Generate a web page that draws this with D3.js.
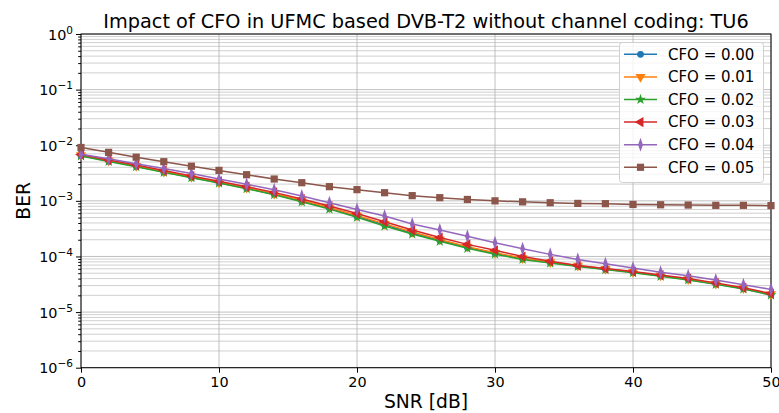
<!DOCTYPE html>
<html>
<head>
<meta charset="utf-8">
<script src="https://cdn.jsdelivr.net/npm/d3@7"></script>
<style>
  body { margin: 0; background: #fff; }
  text { font-family: "DejaVu Sans", sans-serif; fill: #000; }
</style>
</head>
<body>
<div id="chart"></div>
<script>
// data
var snr = [0, 2, 4, 6, 8, 10, 12, 14, 16, 18, 20, 22, 24, 26, 28, 30, 32, 34, 36, 38, 40, 42, 44, 46, 48, 50];
var cfoLabels = ["CFO = 0.00", "CFO = 0.01", "CFO = 0.02", "CFO = 0.03", "CFO = 0.04", "CFO = 0.05"];
var ber000 = [6.5e-3, 5.2e-3, 4.2e-3, 3.3e-3, 2.65e-3, 2.12e-3, 1.68e-3, 1.32e-3, 9.9e-4, 7.4e-4, 5.25e-4, 3.7e-4, 2.65e-4, 1.95e-4, 1.45e-4, 1.14e-4, 9.1e-5, 7.8e-5, 6.75e-5, 5.9e-5, 5.2e-5, 4.5e-5, 3.85e-5, 3.2e-5, 2.65e-5, 2.05e-5];
var ber001 = [6.6e-3, 5.3e-3, 4.25e-3, 3.35e-3, 2.7e-3, 2.15e-3, 1.72e-3, 1.35e-3, 1.02e-3, 7.6e-4, 5.45e-4, 3.85e-4, 2.75e-4, 2.02e-4, 1.5e-4, 1.17e-4, 9.3e-5, 7.9e-5, 6.85e-5, 6.0e-5, 5.25e-5, 4.55e-5, 3.9e-5, 3.25e-5, 2.7e-5, 2.1e-5];
var ber002 = [6.4e-3, 5.1e-3, 4.1e-3, 3.25e-3, 2.6e-3, 2.09e-3, 1.65e-3, 1.29e-3, 9.6e-4, 7.1e-4, 5.05e-4, 3.52e-4, 2.53e-4, 1.87e-4, 1.4e-4, 1.1e-4, 8.85e-5, 7.6e-5, 6.6e-5, 5.8e-5, 5.1e-5, 4.4e-5, 3.77e-5, 3.15e-5, 2.6e-5, 2.02e-5];
var ber003 = [6.8e-3, 5.45e-3, 4.4e-3, 3.5e-3, 2.8e-3, 2.25e-3, 1.8e-3, 1.42e-3, 1.08e-3, 8.1e-4, 5.9e-4, 4.2e-4, 2.98e-4, 2.2e-4, 1.65e-4, 1.29e-4, 1.0e-4, 8.2e-5, 6.9e-5, 6.1e-5, 5.35e-5, 4.65e-5, 4.0e-5, 3.35e-5, 2.75e-5, 2.15e-5];
var ber004 = [6.9e-3, 5.73e-3, 4.65e-3, 3.8e-3, 3.1e-3, 2.47e-3, 1.98e-3, 1.58e-3, 1.22e-3, 9.25e-4, 7.0e-4, 5.33e-4, 3.83e-4, 2.99e-4, 2.3e-4, 1.77e-4, 1.38e-4, 1.09e-4, 8.85e-5, 7.4e-5, 6.2e-5, 5.18e-5, 4.5e-5, 3.77e-5, 3.1e-5, 2.56e-5];
var ber005 = [9.1e-3, 7.45e-3, 6.1e-3, 5.06e-3, 4.2e-3, 3.53e-3, 2.95e-3, 2.47e-3, 2.12e-3, 1.8e-3, 1.59e-3, 1.4e-3, 1.24e-3, 1.14e-3, 1.06e-3, 1.0e-3, 9.6e-4, 9.25e-4, 9.0e-4, 8.9e-4, 8.6e-4, 8.5e-4, 8.4e-4, 8.3e-4, 8.3e-4, 8.2e-4];
var xTicks = [0, 10, 20, 30, 40, 50];
var yExps = [0, -1, -2, -3, -4, -5, -6];

var colors = ["#1f77b4", "#ff7f0e", "#2ca02c", "#d62728", "#9467bd", "#8c564b"];
var allBer = [ber000, ber001, ber002, ber003, ber004, ber005];

var W = 779, H = 413;
var plotL = 81, plotR = 771, plotT = 34, plotB = 367.7;

var svg = d3.select("#chart").append("svg")
    .attr("width", W)
    .attr("height", H);

var x = d3.scaleLinear().domain([0, 50]).range([plotL, plotR]);
var y = d3.scaleLog().domain([1e-6, 1]).range([plotB, plotT]);

// grid
var minorVals = [];
yExps.forEach(function(e){
  if (e < 0) for (var k = 2; k <= 9; k++) minorVals.push(k * Math.pow(10, e));
});
var grid = svg.append("g");
grid.selectAll(".gminor").data(minorVals).enter().append("line")
  .attr("x1", plotL).attr("x2", plotR)
  .attr("y1", d => y(d)).attr("y2", d => y(d))
  .attr("stroke", "#c4c4c4").attr("stroke-width", 0.8);
grid.selectAll(".gmajy").data(yExps).enter().append("line")
  .attr("x1", plotL).attr("x2", plotR)
  .attr("y1", d => y(Math.pow(10, d))).attr("y2", d => y(Math.pow(10, d)))
  .attr("stroke", "#b0b0b0").attr("stroke-width", 0.8);
grid.selectAll(".gmajx").data(xTicks).enter().append("line")
  .attr("y1", plotT).attr("y2", plotB)
  .attr("x1", d => x(d)).attr("x2", d => x(d))
  .attr("stroke", "#b0b0b0").attr("stroke-width", 0.8);

// axes
var xAxis = d3.axisBottom(x).tickValues(xTicks).tickSize(5).tickPadding(4).tickFormat(d3.format("d"));
var gx = svg.append("g").attr("transform", "translate(0," + plotB + ")").call(xAxis);
gx.select(".domain").remove();
gx.selectAll("text").attr("font-size", "14.4px").attr("font-family", "DejaVu Sans");

var yAxisMinor = d3.axisLeft(y).tickValues(minorVals).tickSize(2.8).tickFormat("");
var gym = svg.append("g").attr("transform", "translate(" + plotL + ",0)").call(yAxisMinor);
gym.select(".domain").remove();
var yAxis = d3.axisLeft(y).tickValues(yExps.map(e => Math.pow(10, e))).tickSize(5).tickFormat("");
var gy = svg.append("g").attr("transform", "translate(" + plotL + ",0)").call(yAxis);
gy.select(".domain").remove();

var ylab = svg.append("g").selectAll("text").data(yExps).enter().append("text")
  .attr("x", plotL - 8)
  .attr("y", d => y(Math.pow(10, d)) + 5.5)
  .attr("text-anchor", "end")
  .attr("font-size", "14.4px");
ylab.append("tspan").text("10");
ylab.append("tspan").attr("dy", -6).attr("font-size", "10.5px").text(d => d === 0 ? "0" : "\u2212" + (-d));

// spines
svg.append("rect")
  .attr("x", plotL).attr("y", plotT)
  .attr("width", plotR - plotL).attr("height", plotB - plotT)
  .attr("fill", "none").attr("stroke", "#000").attr("stroke-width", 1);

// marker shapes
function markerPath(i) {
  var s;
  if (i === 0) s = d3.symbol(d3.symbolCircle, 36)();
  else if (i === 1) s = d3.symbol(d3.symbolTriangle, 44)();
  else if (i === 2) s = d3.symbol(d3.symbolStar, 36)();
  else if (i === 3) s = d3.symbol(d3.symbolTriangle, 44)();
  else if (i === 4) s = d3.symbol(d3.symbolDiamond, 52)();
  else s = d3.symbol(d3.symbolSquare, 52)();
  return s;
}
function markerTransform(i) {
  if (i === 1) return " rotate(180)";
  if (i === 3) return " rotate(-90)";
  if (i === 4) return " scale(0.62,1.05)";
  return "";
}

var line = d3.line().x((d, j) => x(snr[j])).y(d => y(d));

allBer.forEach(function(ber, i) {
  var g = svg.append("g");
  g.append("path").datum(ber)
    .attr("d", line)
    .attr("fill", "none")
    .attr("stroke", colors[i])
    .attr("stroke-width", 1.5);
  g.selectAll("path.m").data(ber).enter().append("path")
    .attr("class", "m")
    .attr("d", markerPath(i))
    .attr("transform", (d, j) => "translate(" + x(snr[j]) + "," + y(d) + ")" + markerTransform(i))
    .attr("fill", colors[i]);
});

// legend
var lg = svg.append("g");
lg.append("rect")
  .attr("x", 619.5).attr("y", 42.5).attr("width", 144).attr("height", 140)
  .attr("rx", 3)
  .attr("fill", "#fff").attr("fill-opacity", 0.8)
  .attr("stroke", "#d0d0d0").attr("stroke-width", 1);
cfoLabels.forEach(function(lab, i) {
  var yy = 54.3 + i * 22.6;
  lg.append("line").attr("x1", 624).attr("x2", 657).attr("y1", yy).attr("y2", yy)
    .attr("stroke", colors[i]).attr("stroke-width", 1.5);
  lg.append("path").attr("d", markerPath(i))
    .attr("transform", "translate(640.5," + yy + ")" + markerTransform(i))
    .attr("fill", colors[i]);
  lg.append("text").attr("x", 668).attr("y", yy + 5.3)
    .attr("font-size", "15px").text(lab);
});

// titles
svg.append("text")
  .attr("x", (plotL + plotR) / 2).attr("y", 28)
  .attr("text-anchor", "middle").attr("font-size", "19.3px")
  .text("Impact of CFO in UFMC based DVB-T2 without channel coding: TU6");
svg.append("text")
  .attr("x", (plotL + plotR) / 2).attr("y", 408)
  .attr("text-anchor", "middle").attr("font-size", "18.7px")
  .text("SNR [dB]");
svg.append("text")
  .attr("transform", "translate(30," + ((plotT + plotB) / 2) + ") rotate(-90)")
  .attr("text-anchor", "middle").attr("font-size", "18.7px")
  .text("BER");
</script>
</body>
</html>
